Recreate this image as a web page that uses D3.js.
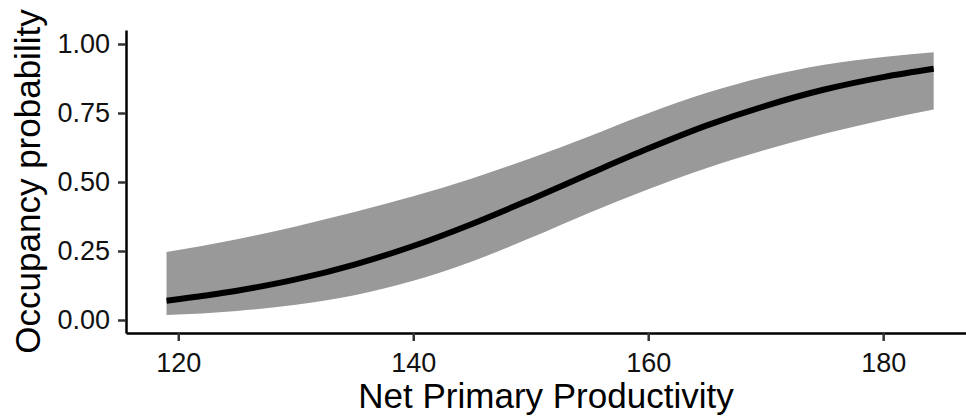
<!DOCTYPE html>
<html>
<head>
<meta charset="utf-8">
<script src="https://cdn.jsdelivr.net/npm/d3@7"></script>
<style>
  body { margin: 0; background: #fff; }
  svg { display: block; font-family: "Liberation Sans", Arial, sans-serif; }
</style>
</head>
<body>
<div id="chart"></div>
<script>
// values
const npp = [119, 125, 130, 135, 140, 145, 150, 155, 160, 165, 170, 175, 180, 184.3];
const occFit = [0.070, 0.106, 0.147, 0.201, 0.268, 0.348, 0.437, 0.530, 0.621, 0.705, 0.776, 0.835, 0.880, 0.910];
const occLower = [0.018, 0.033, 0.055, 0.090, 0.142, 0.212, 0.298, 0.389, 0.474, 0.551, 0.617, 0.675, 0.725, 0.763];
const occUpper = [0.246, 0.293, 0.339, 0.391, 0.448, 0.513, 0.586, 0.666, 0.749, 0.823, 0.882, 0.925, 0.953, 0.970];
const xTicks = [120, 140, 160, 180];
const yTicks = [0, 0.25, 0.5, 0.75, 1];

const width = 966;
const height = 418;
const panel = { left: 126, right: 966, top: 30, bottom: 333 };

const data = npp.map((d, i) => ({ x: d, fit: occFit[i], lo: occLower[i], hi: occUpper[i] }));

const svg = d3
  .select("#chart")
  .append("svg")
  .attr("width", width)
  .attr("height", height);

const x = d3
  .scaleLinear()
  .domain([115.55, 187.05])
  .range([panel.left, panel.right]);

const y = d3
  .scaleLinear()
  .domain([-0.0471, 1.0507])
  .range([panel.bottom, panel.top]);

// confidence band
svg
  .append("path")
  .datum(data)
  .attr("fill", "#999999")
  .attr(
    "d",
    d3
      .area()
      .x((d) => x(d.x))
      .y0((d) => y(d.lo))
      .y1((d) => y(d.hi))
      .curve(d3.curveMonotoneX)
  );

// fitted line
svg
  .append("path")
  .datum(data)
  .attr("fill", "none")
  .attr("stroke", "#000")
  .attr("stroke-width", 6)
  .attr(
    "d",
    d3
      .line()
      .x((d) => x(d.x))
      .y((d) => y(d.fit))
      .curve(d3.curveMonotoneX)
  );

// axes
const xAxis = svg
  .append("g")
  .attr("transform", "translate(0," + panel.bottom + ")")
  .call(
    d3.axisBottom(x).tickValues(xTicks).tickSize(8).tickSizeOuter(0).tickPadding(12)
  );

const yAxis = svg
  .append("g")
  .attr("transform", "translate(" + panel.left + ",0)")
  .call(
    d3
      .axisLeft(y)
      .tickValues(yTicks)
      .tickFormat(d3.format(".2f"))
      .tickSize(8)
      .tickSizeOuter(0)
      .tickPadding(8)
  );

[xAxis, yAxis].forEach((g) => {
  g.select(".domain").attr("stroke", "#000").attr("stroke-width", 2.5);
  g.selectAll(".tick line").attr("stroke", "#333").attr("stroke-width", 2.5);
  g.selectAll(".tick text")
    .attr("fill", "#111")
    .style("font-size", "27px")
    .style("font-family", "Liberation Sans, Arial, sans-serif");
});

// axis titles
svg
  .append("text")
  .attr("text-anchor", "middle")
  .attr("x", (panel.left + panel.right) / 2)
  .attr("y", 408)
  .style("font-size", "35px")
  .attr("fill", "#000")
  .text("Net Primary Productivity");

svg
  .append("text")
  .attr("text-anchor", "middle")
  .attr("transform", "translate(40," + (panel.top + panel.bottom) / 2 + ") rotate(-90)")
  .style("font-size", "35px")
  .attr("fill", "#000")
  .text("Occupancy probability");
</script>
</body>
</html>
